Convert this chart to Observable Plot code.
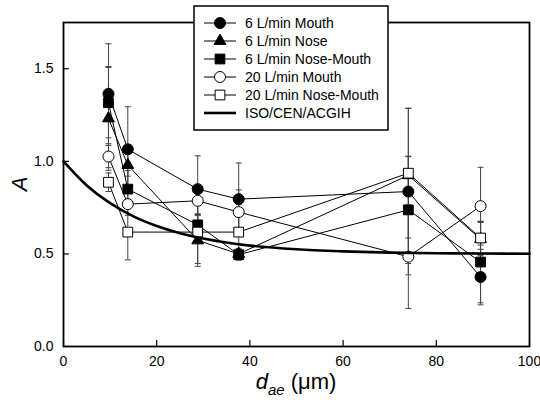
<!DOCTYPE html>
<html><head><meta charset="utf-8">
<script src="https://cdn.jsdelivr.net/npm/d3@7"></script>
<script src="https://cdn.jsdelivr.net/npm/@observablehq/plot@0.6"></script>
<style>
body{margin:0;background:#fff;font-family:"Liberation Sans",Arial,sans-serif;}
#wrap{position:relative;width:540px;height:403px;}
#legend{position:absolute;left:193px;top:5px;}
</style></head>
<body><div id="wrap"></div>
<script>
// ---- data ----
const dae = [9.65, 13.8, 28.8, 37.6, 74.0, 89.5];
const seriesNames = ["6 L/min Mouth", "6 L/min Nose", "6 L/min Nose-Mouth", "20 L/min Mouth", "20 L/min Nose-Mouth"];
const mouth6      = [1.365, 1.065, 0.850, 0.796, 0.837, 0.375];
const mouth6Err   = [0.27, 0.23, 0.18, 0.195, 0.45, 0.15];
const nose6       = [1.232, 0.980, 0.573, 0.500, 0.925, 0.580];
const nose6Err    = [0.28, 0.06, 0.14, 0.03, 0.10, 0.09];
const noseMouth6  = [1.317, 0.850, 0.657, 0.496, 0.738, 0.456];
const noseMouth6Err = [0.19, 0.10, 0.06, 0.03, 0.29, 0.22];
const mouth20     = [1.026, 0.769, 0.787, 0.726, 0.485, 0.758];
const mouth20Err  = [0.06, 0.06, 0.08, 0.12, 0.28, 0.21];
const noseMouth20 = [0.887, 0.618, 0.618, 0.618, 0.936, 0.586];
const noseMouth20Err = [0.05, 0.15, 0.17, 0.15, 0.35, 0.09];
const isoName = "ISO/CEN/ACGIH";
const isoD = [0, 5, 10, 15, 20, 25, 30, 40, 50, 60, 70, 80, 90, 100];
const isoA = [1.0, 0.870, 0.774, 0.703, 0.651, 0.612, 0.583, 0.545, 0.525, 0.514, 0.507, 0.504, 0.502, 0.501];
const xTicks = [0, 20, 40, 60, 80, 100];
const yTicks = [0, 0.5, 1.0, 1.5];

// ---- build tables ----
const values = [mouth6, nose6, noseMouth6, mouth20, noseMouth20];
const errs = [mouth6Err, nose6Err, noseMouth6Err, mouth20Err, noseMouth20Err];
const styles = [
  {symbol: "circle", fill: "black", r: 5.5},
  {symbol: "triangle", fill: "black", r: 4.4},
  {symbol: "square", fill: "black", r: 5.5},
  {symbol: "circle", fill: "white", r: 5.5},
  {symbol: "square", fill: "white", r: 5.5}
];
const drawOrder = [1, 0, 2, 3, 4];
const rows = [];
seriesNames.forEach((s, i) => dae.forEach((x, j) => rows.push({series: s, si: i, x, y: values[i][j], e: errs[i][j]})));
const caps = rows.flatMap(r => [{x: r.x, y: r.y + r.e}, {x: r.x, y: r.y - r.e}]);
const iso = isoD.map((d, i) => ({x: d, y: isoA[i]}));

const capSymbol = {draw(ctx, size) { const w = Math.sqrt(size / Math.PI) * 1.5; ctx.moveTo(-w, 0); ctx.lineTo(w, 0); }};

const W = 540, H = 403, ML = 63, MR = 11, MT = 22, MB = 57;
const plot = Plot.plot({
  width: W, height: H,
  marginLeft: ML, marginRight: MR, marginTop: MT, marginBottom: MB,
  style: {fontFamily: "Liberation Sans, Arial, sans-serif", fontSize: "14px", background: "white", color: "black"},
  x: {domain: [0, 100]},
  y: {domain: [0, 1.75]},
  marks: [
    Plot.ruleX(rows, {x: "x", y1: d => d.y - d.e, y2: d => d.y + d.e, stroke: "#444", strokeWidth: 1}),
    Plot.dot(caps, {x: "x", y: "y", symbol: capSymbol, r: 2, stroke: "#444", strokeWidth: 1, fill: "none"}),
    Plot.line(rows, {x: "x", y: "y", z: "series", stroke: "black", strokeWidth: 1}),
    ...drawOrder.map(i => Plot.dot(rows.filter(r => r.si === i), {x: "x", y: "y", symbol: styles[i].symbol, fill: styles[i].fill, stroke: "black", strokeWidth: 1, r: styles[i].r})),
    Plot.line(iso, {x: "x", y: "y", curve: "monotone-x", stroke: "black", strokeWidth: 2.6}),
    Plot.ruleX(xTicks, {x: d => d, insetTop: (H - MT - MB) - 6, stroke: "black", strokeWidth: 1.2}),
    Plot.ruleY(yTicks, {y: d => d, insetRight: (W - ML - MR) - 6, stroke: "black", strokeWidth: 1.2}),
    Plot.axisX(xTicks, {tickSize: 0, tickPadding: 10, tickFormat: d => d, label: null}),
    Plot.axisY(yTicks, {tickSize: 0, tickPadding: 10, tickFormat: d3.format(".1f"), label: null}),
    Plot.frame({stroke: "black", strokeWidth: 1.8})
  ]
});
const wrap = document.getElementById("wrap");
wrap.appendChild(plot);

// axis titles with rich text
const svg = d3.select(plot);
svg.append("text")
  .attr("transform", `translate(27,${MT + (H - MT - MB) / 2}) rotate(-90)`)
  .attr("text-anchor", "middle")
  .attr("font-size", 22).attr("font-style", "italic").attr("fill", "black")
  .text("A");
const xl = svg.append("text")
  .attr("x", ML + (W - ML - MR) / 2).attr("y", 389)
  .attr("text-anchor", "middle").attr("font-size", 22).attr("fill", "black");
xl.append("tspan").attr("font-style", "italic").text("d");
xl.append("tspan").attr("font-style", "italic").attr("font-size", 15).attr("dy", 6).text("ae");
xl.append("tspan").attr("dy", -6).text(" (\u03bcm)");

// legend
const lg = d3.select(wrap).append("svg").attr("id", "legend").attr("width", 198).attr("height", 128);
lg.append("rect").attr("x", 1).attr("y", 1).attr("width", 194).attr("height", 124).attr("fill", "white").attr("stroke", "black").attr("stroke-width", 1.5);
const legendItems = seriesNames.map((s, i) => ({name: s, st: styles[i], w: 1})).concat([{name: isoName, st: null, w: 2.6}]);
legendItems.forEach((it, i) => {
  const cy = 18 + 18 * i;
  const g = lg.append("g");
  g.append("line").attr("x1", 11).attr("x2", 43).attr("y1", cy).attr("y2", cy).attr("stroke", "black").attr("stroke-width", it.w);
  if (it.st) {
    const type = {circle: d3.symbolCircle, triangle: d3.symbolTriangle, square: d3.symbolSquare}[it.st.symbol];
    g.append("path").attr("d", d3.symbol(type, Math.PI * it.st.r * it.st.r)()).attr("transform", `translate(27,${cy})`)
      .attr("fill", it.st.fill).attr("stroke", "black").attr("stroke-width", 1);
  }
  g.append("text").attr("x", 52).attr("y", cy).attr("dy", "0.35em").attr("font-size", 14)
    .attr("font-family", "Liberation Sans, Arial, sans-serif").attr("fill", "black").text(it.name);
});
</script></body></html>
